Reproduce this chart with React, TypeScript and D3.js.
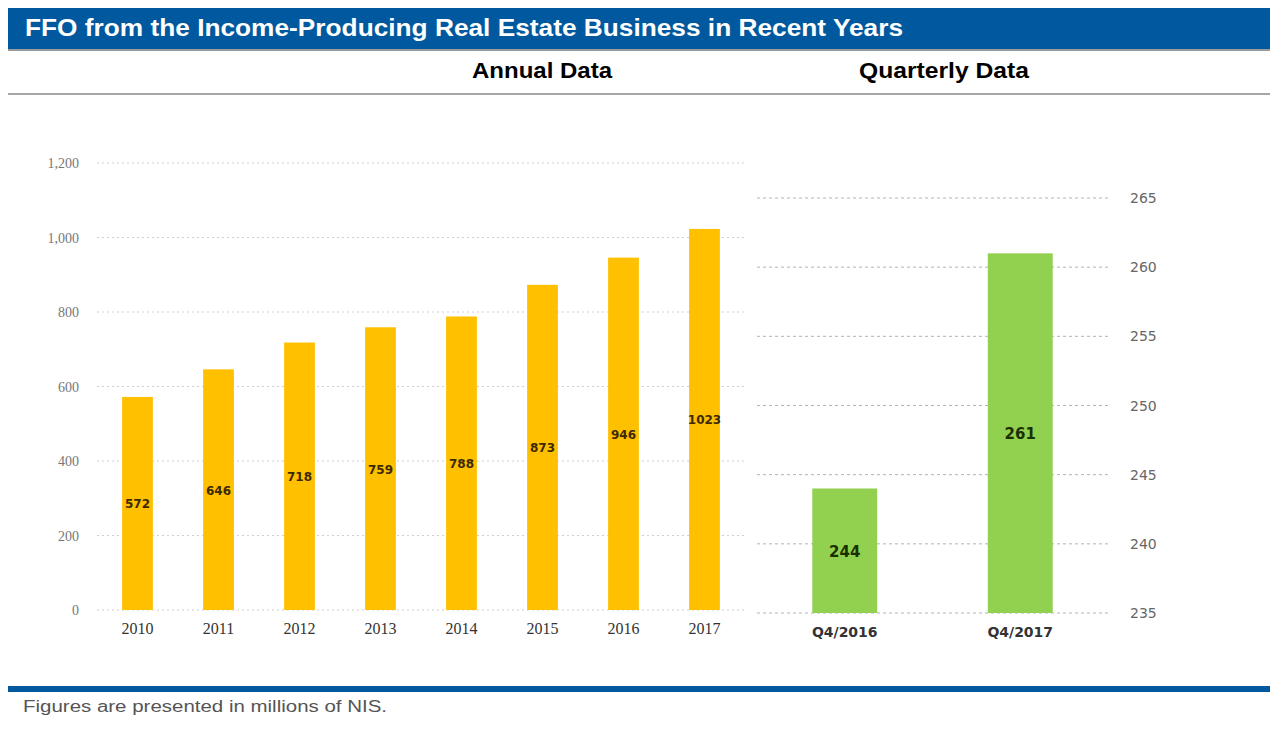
import * as d3 from 'd3';
import React, { useRef, useEffect } from 'react';

const years = ['2010', '2011', '2012', '2013', '2014', '2015', '2016', '2017'];
const annualValues = [572, 646, 718, 759, 788, 873, 946, 1023];
const annualTicks = [0, 200, 400, 600, 800, 1000, 1200];

const quarters = ['Q4/2016', 'Q4/2017'];
const quarterValues = [244, 261];
const quarterTicks = [235, 240, 245, 250, 255, 260, 265];

const W = 1270;
const H = 733;

function FfoChart() {
    const ref = useRef<SVGSVGElement>(null);

    useEffect(() => {
        const svg = d3.select(ref.current);
        svg.selectAll('*').remove();

        // header
        svg.append('rect').attr('x', 8).attr('y', 8).attr('width', W - 8).attr('height', 41).attr('fill', '#00599e');
        svg.append('rect').attr('x', 8).attr('y', 49).attr('width', W - 8).attr('height', 2).attr('fill', '#9a9a9a');
        svg.append('text')
            .attr('x', 25).attr('y', 36)
            .attr('fill', '#fff')
            .style('font-family', '"Liberation Sans Narrow", "Liberation Sans", Arial, sans-serif')
            .style('font-weight', 'bold')
            .style('font-size', '24px')
            .attr('textLength', 878).attr('lengthAdjust', 'spacingAndGlyphs')
            .text('FFO from the Income-Producing Real Estate Business in Recent Years');

        const sub = [['Annual Data', 472, 140], ['Quarterly Data', 859, 170]] as const;
        sub.forEach(([t, x, len]) => {
            svg.append('text')
                .attr('x', x).attr('y', 78)
                .attr('fill', '#000')
                .style('font-family', '"Liberation Sans Narrow", "Liberation Sans", Arial, sans-serif')
                .style('font-weight', 'bold')
                .style('font-size', '22px')
                .attr('textLength', len).attr('lengthAdjust', 'spacingAndGlyphs')
                .text(t);
        });
        svg.append('rect').attr('x', 8).attr('y', 93).attr('width', W - 8).attr('height', 2).attr('fill', '#a6a6a6');

        // annual chart
        const x = d3.scaleBand().domain(years).range([97, 745]).paddingInner(0.62).paddingOuter(0.31);
        const y = d3.scaleLinear().domain([0, 1200]).range([610, 163]);

        const ga = svg.append('g');
        ga.selectAll('line.grid')
            .data(annualTicks)
            .join('line')
            .attr('class', 'grid')
            .attr('x1', 97).attr('x2', 745)
            .attr('y1', d => y(d)).attr('y2', d => y(d))
            .attr('stroke', '#cfcfcf')
            .attr('stroke-dasharray', '2 3');

        ga.selectAll('text.tick')
            .data(annualTicks)
            .join('text')
            .attr('class', 'tick')
            .attr('x', 79).attr('y', d => y(d) + 5)
            .attr('text-anchor', 'end')
            .attr('fill', '#777')
            .style('font-family', '"Liberation Serif", "Times New Roman", serif')
            .style('font-size', '14px')
            .text(d => d3.format(',')(d));

        ga.selectAll('rect.bar')
            .data(annualValues)
            .join('rect')
            .attr('class', 'bar')
            .attr('x', (d, i) => x(years[i])!)
            .attr('y', d => y(d))
            .attr('width', x.bandwidth())
            .attr('height', d => y(0) - y(d))
            .attr('fill', '#ffc000');

        ga.selectAll('text.val')
            .data(annualValues)
            .join('text')
            .attr('class', 'val')
            .attr('x', (d, i) => x(years[i])! + x.bandwidth() / 2)
            .attr('y', d => (y(0) + y(d)) / 2 + 5)
            .attr('text-anchor', 'middle')
            .attr('fill', '#3d2a00')
            .style('font-family', '"DejaVu Sans", sans-serif')
            .style('font-weight', 'bold')
            .style('font-size', '12px')
            .text(d => d);

        ga.selectAll('text.year')
            .data(years)
            .join('text')
            .attr('class', 'year')
            .attr('x', d => x(d)! + x.bandwidth() / 2)
            .attr('y', 634)
            .attr('text-anchor', 'middle')
            .attr('fill', '#333')
            .style('font-family', '"Liberation Serif", "Times New Roman", serif')
            .style('font-size', '16px')
            .text(d => d);

        // quarterly chart
        const xq = d3.scaleBand().domain(quarters).range([757, 1108]).paddingInner(0.63).paddingOuter(0.315);
        const yq = d3.scaleLinear().domain([235, 265]).range([613, 198]);

        const gq = svg.append('g');
        gq.selectAll('line.grid')
            .data(quarterTicks)
            .join('line')
            .attr('class', 'grid')
            .attr('x1', 757).attr('x2', 1108)
            .attr('y1', d => yq(d)).attr('y2', d => yq(d))
            .attr('stroke', '#b4b4b4')
            .attr('stroke-dasharray', '3 3');

        gq.selectAll('text.tick')
            .data(quarterTicks)
            .join('text')
            .attr('class', 'tick')
            .attr('x', 1130).attr('y', d => yq(d) + 5)
            .attr('fill', '#666')
            .style('font-family', '"DejaVu Sans", Verdana, sans-serif')
            .style('font-size', '14px')
            .text(d => d);

        gq.selectAll('rect.bar')
            .data(quarterValues)
            .join('rect')
            .attr('class', 'bar')
            .attr('x', (d, i) => xq(quarters[i])!)
            .attr('y', d => yq(d))
            .attr('width', xq.bandwidth())
            .attr('height', d => yq(235) - yq(d))
            .attr('fill', '#92d050');

        gq.selectAll('text.val')
            .data(quarterValues)
            .join('text')
            .attr('class', 'val')
            .attr('x', (d, i) => xq(quarters[i])! + xq.bandwidth() / 2)
            .attr('y', d => (yq(235) + yq(d)) / 2 + 6)
            .attr('text-anchor', 'middle')
            .attr('fill', '#1b3000')
            .style('font-family', '"DejaVu Sans", Verdana, sans-serif')
            .style('font-weight', 'bold')
            .style('font-size', '15px')
            .text(d => d);

        gq.selectAll('text.q')
            .data(quarters)
            .join('text')
            .attr('class', 'q')
            .attr('x', d => xq(d)! + xq.bandwidth() / 2)
            .attr('y', 637)
            .attr('text-anchor', 'middle')
            .attr('fill', '#333')
            .style('font-family', '"DejaVu Sans", Verdana, sans-serif')
            .style('font-weight', 'bold')
            .style('font-size', '14px')
            .text(d => d);

        // footer
        svg.append('rect').attr('x', 8).attr('y', 686).attr('width', W - 8).attr('height', 6).attr('fill', '#00599e');
        svg.append('text')
            .attr('x', 23).attr('y', 712)
            .attr('fill', '#555')
            .style('font-family', '"Liberation Sans", Arial, sans-serif')
            .style('font-size', '16px')
            .attr('textLength', 364).attr('lengthAdjust', 'spacingAndGlyphs')
            .text('Figures are presented in millions of NIS.');
    }, []);

    return (
        <svg ref={ref} width={W} height={H} style={{ position: 'absolute', left: 0, top: 0, background: '#fff' }}>
        </svg>
    );
}

export default function App() {
    return <FfoChart />;
}
